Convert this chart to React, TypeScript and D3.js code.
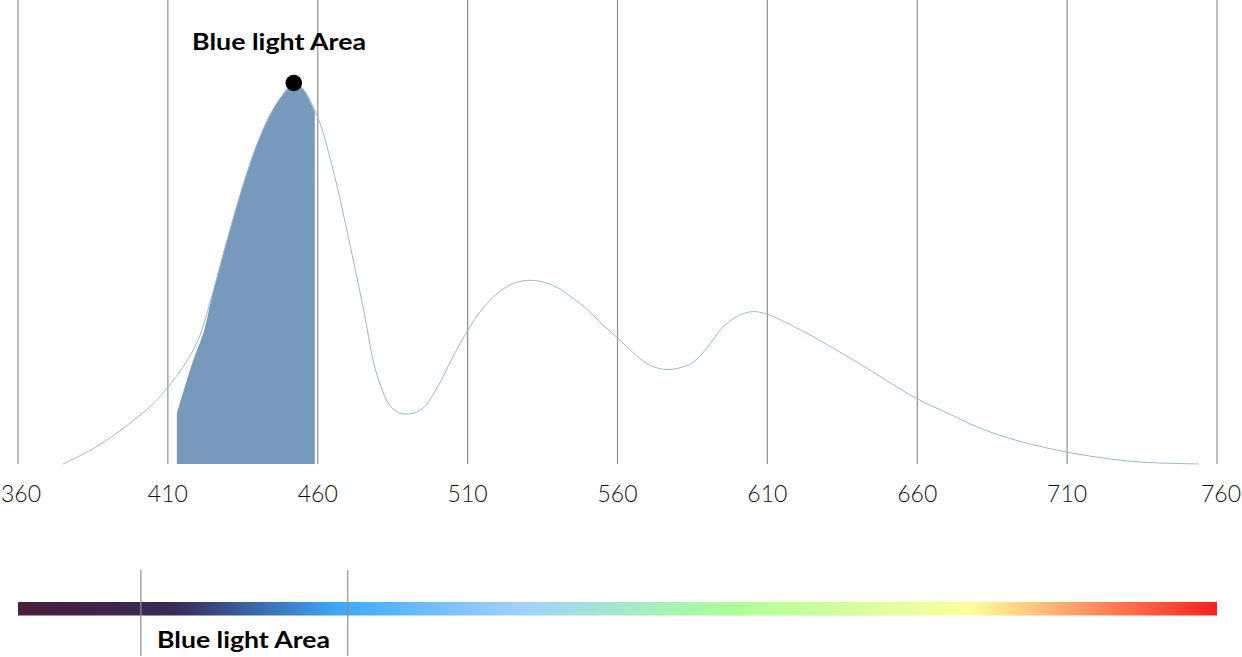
import React from "react";
import * as d3 from "d3";

// ---- data ----
const wavelengths = [375, 385, 395, 405, 410, 415, 420, 425, 430, 435, 440, 445, 450, 452, 455, 460, 465, 470, 475, 480, 485, 490, 495, 500, 505, 510, 515, 520, 525, 530, 535, 540, 545, 550, 555, 560, 565, 570, 575, 580, 585, 590, 595, 600, 605, 610, 615, 620, 625, 630, 640, 650, 660, 670, 680, 690, 700, 710, 720, 730, 740, 754];
const intensity = [0, 4, 9.3, 15.8, 20.2, 25.4, 32.4, 45, 59.5, 73, 84.5, 93, 98.6, 100, 98.5, 91, 77.6, 60.3, 41.7, 22.8, 14.5, 13.1, 14.6, 20.3, 28, 35, 40.8, 44.8, 47.3, 48.2, 47.8, 46.3, 43.6, 40.5, 36.6, 33.1, 29.4, 26.3, 24.9, 25.1, 26.6, 30.6, 35.8, 38.8, 40, 39.3, 37.6, 35.6, 33.6, 31.3, 26.7, 21.8, 17.1, 13.4, 9.7, 6.9, 4.8, 3.1, 1.8, 0.8, 0.3, 0];

const areaWavelengths = [413, 415, 418.5, 422, 424, 426, 430, 435, 440, 445, 450, 452, 455, 459];
const areaIntensity = [13.3, 18.6, 27.3, 34.8, 41.5, 48, 59.5, 73, 84.5, 93, 98.6, 100, 98.5, 92.5];

const peak = { wavelength: 452, value: 100 };
const tickValues = [360, 410, 460, 510, 560, 610, 660, 710, 760];
const blueBand = [401, 470];
const label = "Blue light Area";

const spectrumStops = [
  { offset: 0, color: "#4a1e3c" },
  { offset: 0.13, color: "#382a58" },
  { offset: 0.268, color: "#3ea8fa" },
  { offset: 0.415, color: "#a0d0ff" },
  { offset: 0.59, color: "#aaff99" },
  { offset: 0.794, color: "#ffffa0" },
  { offset: 1, color: "#ff1e1e" },
];

const W = 1242;
const H = 657;

export default function App() {
  const x = d3.scaleLinear().domain([360, 760]).range([18, 1217]);
  const y = d3.scaleLinear().domain([0, 100]).range([464, 83]);

  const pts: [number, number][] = wavelengths.map((w, i) => [w, intensity[i]]);
  const areaPts: [number, number][] = areaWavelengths.map((w, i) => [w, areaIntensity[i]]);

  const curve = d3.curveCatmullRom.alpha(0.5);

  const line = d3
    .line<[number, number]>()
    .x((d) => x(d[0]))
    .y((d) => y(d[1]))
    .curve(curve);

  const area = d3
    .area<[number, number]>()
    .x((d) => x(d[0]))
    .y0(y(0))
    .y1((d) => y(d[1]))
    .curve(curve);

  const font = "Lato, 'Open Sans', sans-serif";
  const last = tickValues.length - 1;

  return (
    <svg
      width={W}
      height={H}
      style={{ position: "absolute", left: 0, top: 0, background: "#fff" }}
    >
      <defs>
        <linearGradient id="spectrum" x1="0" x2="1" y1="0" y2="0">
          {spectrumStops.map((s, i) => (
            <stop key={i} offset={s.offset} stopColor={s.color} />
          ))}
        </linearGradient>
      </defs>

      {tickValues.map((t, i) => (
        <g key={t}>
          <line x1={x(t)} x2={x(t)} y1={0} y2={y(0)} stroke="#8f8f8f" strokeWidth={1.2} />
          <text
            x={i === 0 ? 1 : i === last ? W - 1 : x(t)}
            y={502}
            textAnchor={i === 0 ? "start" : i === last ? "end" : "middle"}
            fontFamily={font}
            fontWeight={300}
            fontSize={23}
            fill="#111"
          >
            {t}
          </text>
        </g>
      ))}

      <path d={area(areaPts) || ""} fill="#7699bc" />
      <path d={line(pts) || ""} fill="none" stroke="#9db6d2" strokeWidth={1} />

      <circle cx={x(peak.wavelength)} cy={y(peak.value)} r={8.3} fill="#000" />
      <text
        x={192}
        y={50}
        fontFamily={font}
        fontWeight={700}
        fontSize={23}
        fill="#000"
        textLength={174}
        lengthAdjust="spacingAndGlyphs"
      >
        {label}
      </text>

      <rect x={x(360)} y={602} width={x(760) - x(360)} height={13.5} fill="url(#spectrum)" />
      {blueBand.map((b) => (
        <line key={b} x1={x(b)} x2={x(b)} y1={570} y2={656} stroke="#8f8f8f" strokeWidth={1.2} />
      ))}
      <text
        x={157}
        y={648}
        fontFamily={font}
        fontWeight={700}
        fontSize={22}
        fill="#000"
        textLength={173}
        lengthAdjust="spacingAndGlyphs"
      >
        {label}
      </text>
    </svg>
  );
}
